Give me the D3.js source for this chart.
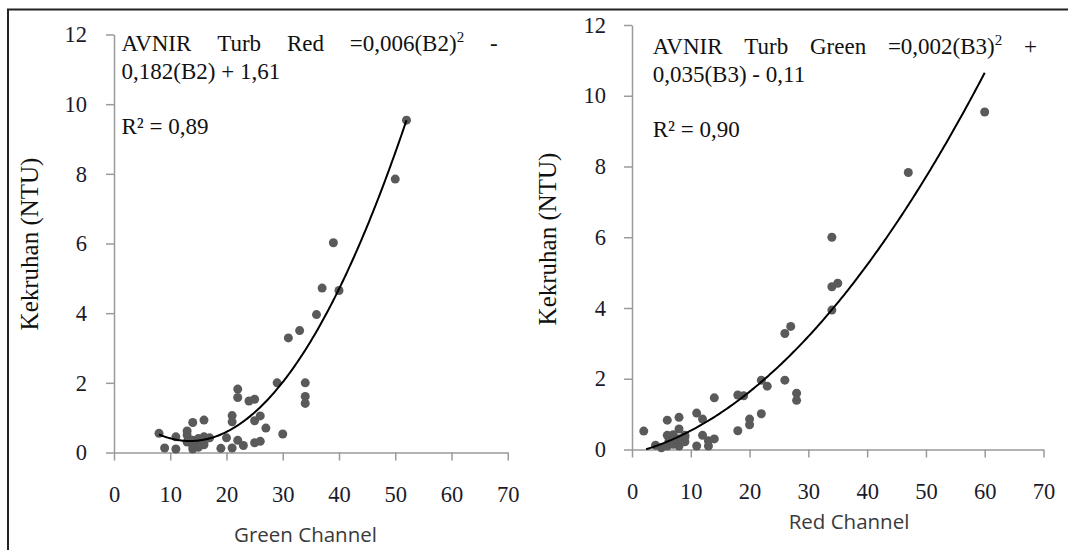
<!DOCTYPE html>
<html>
<head>
<meta charset="utf-8">
<script src="https://cdn.jsdelivr.net/npm/d3@7"></script>
<style>
  html, body { margin: 0; padding: 0; background: #fff; }
  svg { display: block; }
</style>
</head>
<body>
<svg id="chart" width="1068" height="550"></svg>
<script>
// ---------- DATA ----------
const xTicks = [0, 10, 20, 30, 40, 50, 60, 70];
const yTicks = [0, 2, 4, 6, 8, 10, 12];

// Left panel: Green Channel vs Kekruhan
const greenX = [8, 9, 11, 11, 13, 13, 14, 14, 14, 15, 16, 16, 16, 17, 19, 20, 21, 21, 21, 22, 22, 22, 23, 24, 25, 25, 25, 26, 26, 27, 29, 30, 31, 33, 34, 34, 34, 36, 37, 39, 40, 50, 52, 14, 15, 15, 16, 13];
const greenY = [0.55, 0.13, 0.1, 0.45, 0.62, 0.5, 0.86, 0.2, 0.1, 0.3, 0.93, 0.45, 0.22, 0.42, 0.12, 0.42, 1.06, 0.88, 0.13, 1.82, 1.58, 0.35, 0.2, 1.48, 1.53, 0.91, 0.28, 1.05, 0.32, 0.7, 2.0, 0.53, 3.29, 3.5, 2.0, 1.61, 1.41, 3.96, 4.72, 6.02, 4.65, 7.85, 9.54, 0.35, 0.15, 0.4, 0.3, 0.3];
// drawn trend curve (as plotted): a*x^2 + b*x + c, over [xStart, xEnd]
const greenCurve = [0.006214, -0.1678, 1.4625];
const greenCurveRange = [8, 52];

// Right panel: Red Channel vs Kekruhan
const redX = [2, 4, 6, 6, 6, 6.3, 7, 8, 8, 8, 9, 9, 11, 11, 12, 12, 13, 13, 14, 14, 18, 18, 19, 20, 20, 22, 22, 23, 26, 26, 27, 28, 28, 34, 34, 34, 35, 47, 60, 7, 7.5, 5, 8, 9];
const redY = [0.52, 0.12, 0.83, 0.4, 0.1, 0.25, 0.42, 0.91, 0.58, 0.1, 0.4, 0.22, 1.03, 0.1, 0.86, 0.4, 0.25, 0.1, 0.3, 1.46, 0.53, 1.54, 1.52, 0.86, 0.7, 1.96, 1.01, 1.79, 3.28, 1.96, 3.48, 1.59, 1.39, 6.0, 4.6, 3.94, 4.7, 7.83, 9.54, 0.15, 0.3, 0.05, 0.3, 0.35];
const redCurve = [0.002306, 0.04089, -0.1062];
const redCurveRange = [2.4, 60];

const yTitle = "Kekruhan (NTU)";
const leftXTitle = "Green Channel";
const rightXTitle = "Red Channel";
const leftEqWords = ["AVNIR", "Turb", "Red", "=0,006(B2)²", "-"];
const leftEqLine2 = "0,182(B2) + 1,61";
const leftR2 = "R² = 0,89";
const rightEqWords = ["AVNIR", "Turb", "Green", "=0,002(B3)²", "+"];
const rightEqLine2 = "0,035(B3) - 0,11";
const rightR2 = "R² = 0,90";

// ---------- DRAW ----------
const svg = d3.select("#chart");
const SERIF = "'Liberation Serif', 'Times New Roman', serif";
const SANS = "'Open Sans', 'Noto Sans', sans-serif";

// outer frame
svg.append("rect")
  .attr("x", 8).attr("y", 9.5).attr("width", 1200).attr("height", 700)
  .attr("fill", "none").attr("stroke", "#222").attr("stroke-width", 2);

function panel(cfg) {
  const x = d3.scaleLinear().domain([0, 70]).range(cfg.xr);
  const y = d3.scaleLinear().domain([0, 12]).range(cfg.yr);
  const g = svg.append("g");

  const yAx = g.append("g")
    .attr("transform", `translate(${cfg.xr[0]},0)`)
    .call(d3.axisLeft(y).tickValues(yTicks).tickSize(8).tickSizeOuter(0).tickPadding(cfg.yPad));
  const xAx = g.append("g")
    .attr("transform", `translate(0,${cfg.yr[0]})`)
    .call(d3.axisBottom(x).tickValues(xTicks).tickSize(8).tickSizeOuter(0).tickPadding(cfg.xPad));
  [yAx, xAx].forEach(a => {
    a.attr("font-family", null).attr("font-size", null);
    a.selectAll("path.domain").attr("stroke", "#9a9a9a").attr("stroke-width", 1.5);
    a.selectAll(".tick line").attr("stroke", "#9a9a9a").attr("stroke-width", 1.5);
    a.selectAll(".tick text").attr("fill", "#1a1a2a")
      .style("font-family", SERIF).style("font-size", "22.5px");
  });

  // points
  g.append("g").selectAll("circle")
    .data(cfg.xs.map((v, i) => [v, cfg.ys[i]]))
    .join("circle")
    .attr("cx", d => x(d[0])).attr("cy", d => y(d[1]))
    .attr("r", 4.5).attr("fill", "#5a5a5a");

  // trend curve
  const [a, b, c] = cfg.coef;
  const pts = d3.range(0, 201).map(i => {
    const xv = cfg.range[0] + (cfg.range[1] - cfg.range[0]) * i / 200;
    return [xv, a * xv * xv + b * xv + c];
  });
  g.append("path")
    .attr("d", d3.line().x(d => x(d[0])).y(d => y(Math.max(0, d[1])))(pts))
    .attr("fill", "none").attr("stroke", "#000").attr("stroke-width", 2);

  // y title
  g.append("text")
    .attr("transform", `translate(${cfg.yTitlePos[0]},${cfg.yTitlePos[1]}) rotate(-90)`)
    .attr("text-anchor", "middle").attr("dominant-baseline", "central")
    .style("font-family", SERIF).style("font-size", "25px").attr("fill", "#111")
    .text(yTitle);

  // x title
  g.append("text")
    .attr("x", cfg.xTitlePos[0]).attr("y", cfg.xTitlePos[1])
    .attr("text-anchor", "middle")
    .style("font-family", SANS).style("font-size", "20.5px").attr("fill", "#3a3a3a")
    .text(cfg.xTitle);

  // equation line 1, justified between eqX0 and eqX1
  const eq = g.append("g").style("font-family", SERIF).style("font-size", "23px").attr("fill", "#111");
  const words = cfg.eqWords.map(w => {
    const t = eq.append("text").attr("y", cfg.eqY[0]);
    if (w.endsWith("²")) {
      t.append("tspan").text(w.slice(0, -1));
      t.append("tspan").attr("dy", -9).style("font-size", "15px").text("2");
    } else {
      t.text(w);
    }
    return t;
  });
  const widths = words.map(t => t.node().getComputedTextLength());
  const total = d3.sum(widths);
  const gap = (cfg.eqX[1] - cfg.eqX[0] - total) / (words.length - 1);
  let cx = cfg.eqX[0];
  words.forEach((t, i) => { t.attr("x", cx); cx += widths[i] + gap; });

  eq.append("text").attr("x", cfg.eqX[0]).attr("y", cfg.eqY[1]).text(cfg.eqLine2);
  eq.append("text").attr("x", cfg.eqX[0]).attr("y", cfg.eqY[2]).text(cfg.r2);
}

panel({
  xr: [114, 507.75], yr: [452.5, 34.5], yPad: 19, xPad: 26,
  xs: greenX, ys: greenY, coef: greenCurve, range: greenCurveRange,
  yTitlePos: [29, 244], xTitlePos: [305.5, 542], xTitle: leftXTitle,
  eqWords: leftEqWords, eqX: [121.5, 497.6], eqY: [51, 79, 134.3],
  eqLine2: leftEqLine2, r2: leftR2
});

panel({
  xr: [632, 1043.5], yr: [449.5, 25], yPad: 18, xPad: 26,
  xs: redX, ys: redY, coef: redCurve, range: redCurveRange,
  yTitlePos: [547, 239], xTitlePos: [849, 529], xTitle: rightXTitle,
  eqWords: rightEqWords, eqX: [652.7, 1037], eqY: [54.3, 81.7, 137],
  eqLine2: rightEqLine2, r2: rightR2
});
</script>
</body>
</html>
